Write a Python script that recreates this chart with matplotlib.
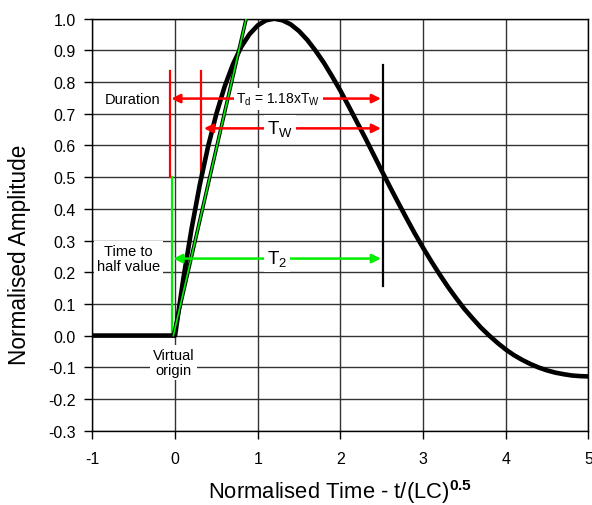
import matplotlib
matplotlib.use("Agg")
import matplotlib.pyplot as plt
import matplotlib.patheffects as pe

# normalised response
time = [-1.0, 0.0, 0.1, 0.2, 0.3, 0.4, 0.5, 0.6, 0.7, 0.8, 0.9,
        1.0, 1.1, 1.2, 1.3, 1.4, 1.5, 1.6, 1.7, 1.8, 1.9,
        2.0, 2.1, 2.2, 2.3, 2.4, 2.5, 2.6, 2.7, 2.8, 2.9,
        3.0, 3.1, 3.2, 3.3, 3.4, 3.5, 3.6, 3.7, 3.8, 3.9,
        4.0, 4.1, 4.2, 4.3, 4.4, 4.5, 4.6, 4.7, 4.8, 4.9, 5.0]
amplitude = [0.0, 0.0, 0.179, 0.337, 0.477, 0.597, 0.700, 0.786, 0.856, 0.911, 0.951,
             0.979, 0.995, 1.000, 0.995, 0.982, 0.961, 0.933, 0.899, 0.861, 0.818,
             0.773, 0.724, 0.674, 0.624, 0.572, 0.520, 0.469, 0.419, 0.370, 0.322,
             0.277, 0.234, 0.193, 0.154, 0.118, 0.084, 0.054, 0.025, 0.0, -0.023,
             -0.044, -0.062, -0.077, -0.090, -0.101, -0.110, -0.117, -0.122, -0.126, -0.128, -0.129]

# straight line from the virtual origin
tangent_x = [-0.02, 0.86]
tangent_y = [0.0, 1.0]

x_ticks = [-1, 0, 1, 2, 3, 4, 5]
y_ticks = [-0.3, -0.2, -0.1, 0.0, 0.1, 0.2, 0.3, 0.4, 0.5, 0.6, 0.7, 0.8, 0.9, 1.0]

plt.rcParams["font.family"] = ["Liberation Sans", "DejaVu Sans"]
plt.rcParams["mathtext.fontset"] = "custom"
plt.rcParams["mathtext.rm"] = "Liberation Sans"
plt.rcParams["mathtext.bf"] = "Liberation Sans:bold"
plt.rcParams["axes.unicode_minus"] = False

fig = plt.figure(figsize=(5.92, 5.06), dpi=100)
ax = fig.add_axes([0.156, 0.147, 0.838, 0.814])

ax.set_xlim(-1, 5)
ax.set_ylim(-0.3, 1.0)
ax.set_xticks(x_ticks)
ax.set_yticks(y_ticks)
ax.set_yticklabels([f"{v:.1f}" for v in y_ticks])
ax.tick_params(axis="x", direction="out", length=6, width=1, labelsize=11.5, pad=9)
ax.tick_params(axis="y", direction="out", length=6, width=1, labelsize=11.5, pad=6)
ax.grid(True, color="#333333", lw=1.0)
ax.set_axisbelow(True)
for s in ax.spines.values():
    s.set_color("black")
    s.set_linewidth(1.0)

ax.plot(time, amplitude, color="black", lw=3.3, zorder=4)
ax.plot(tangent_x, tangent_y, color="#00ee00", lw=1.2, zorder=5,
        path_effects=[pe.Stroke(linewidth=2.6, foreground="black"), pe.Normal()])

# marker lines
ax.plot([-0.035, -0.035], [0.0, 0.5], color="#00ee00", lw=1.6, zorder=3)
ax.plot([-0.06, -0.06], [0.5, 0.835], color="red", lw=1.6, zorder=3)
ax.plot([0.32, 0.32], [0.5, 0.835], color="red", lw=1.6, zorder=3)
ax.plot([2.51, 2.51], [0.155, 0.855], color="black", lw=1.6, zorder=3)

def arrow(x0, x1, y, col):
    ax.annotate("", xy=(x0, y), xytext=(x1, y), zorder=6,
                arrowprops=dict(arrowstyle="<|-|>", color=col, lw=1.8,
                                mutation_scale=13, shrinkA=0, shrinkB=0))

arrow(-0.045, 2.49, 0.748, "red")
arrow(0.35, 2.49, 0.654, "red")
arrow(-0.02, 2.49, 0.243, "#00ee00")

box = dict(facecolor="white", edgecolor="none", pad=2)
ax.text(1.25, 0.748, r"T$_\mathrm{d}$ = 1.18xT$_\mathrm{W}$", fontsize=10,
        ha="center", va="center", bbox=box, zorder=7)
ax.text(1.27, 0.654, r"T$_\mathrm{W}$", fontsize=13.5, ha="center", va="center",
        bbox=box, zorder=7)
ax.text(1.23, 0.243, r"T$_\mathrm{2}$", fontsize=13.5, ha="center", va="center",
        bbox=box, zorder=7)
ax.text(-0.51, 0.748, "Duration", fontsize=10.5, ha="center", va="center",
        bbox=box, zorder=7)
ax.text(-0.56, 0.243, "Time to\nhalf value", fontsize=10.5, ha="center",
        va="center", linespacing=1.15, bbox=box, zorder=7)
ax.text(-0.02, -0.085, "Virtual\norigin", fontsize=10.5, ha="center",
        va="center", linespacing=1.15, bbox=box, zorder=7)

ax.set_xlabel(r"Normalised Time - t/(LC)$^{\mathbf{0.5}}$", fontsize=15.8, labelpad=8)
ax.set_ylabel("Normalised Amplitude", fontsize=16.3)
ax.yaxis.set_label_coords(-0.124, 0.43)

fig.savefig("out.png", dpi=100)
